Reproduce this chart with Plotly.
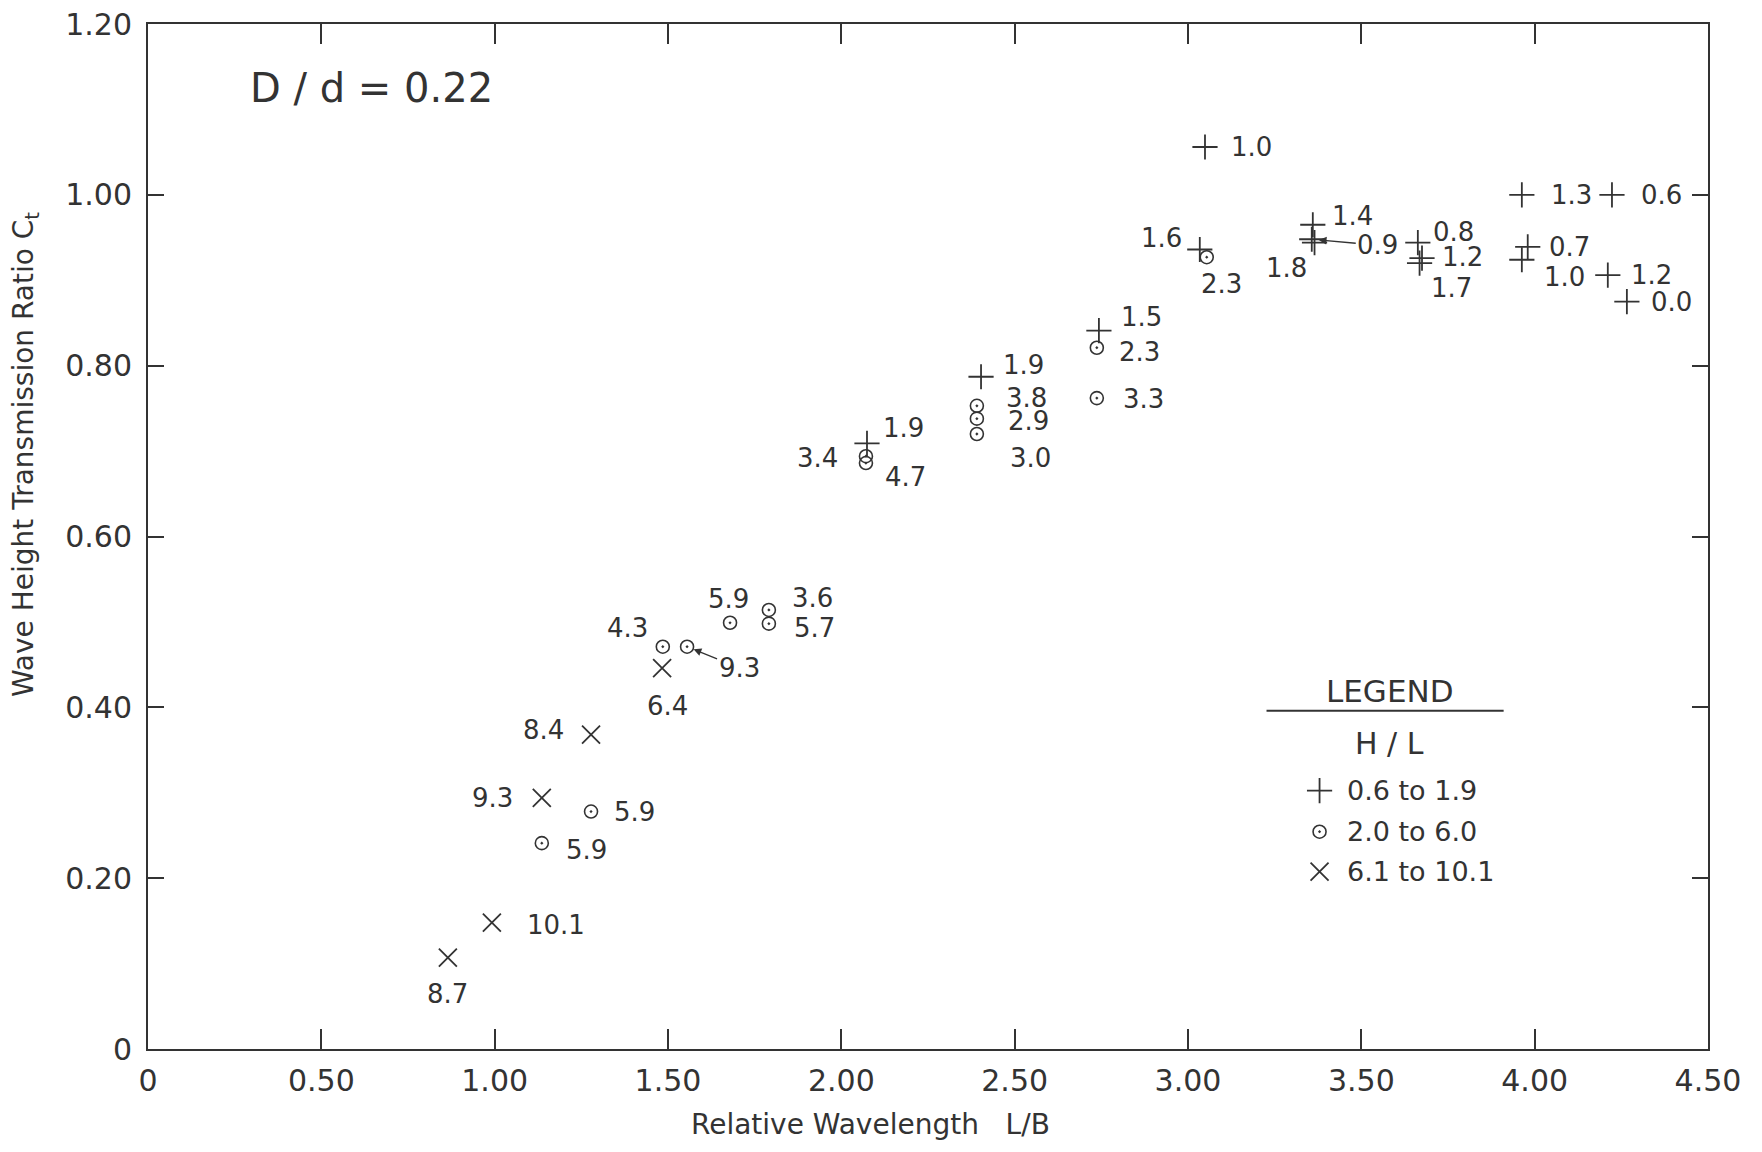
import plotly.graph_objects as go

# ---------------- data ----------------
# H/L 0.6 to 1.9  (plus markers)
plus_x = [2.074, 2.403, 2.743, 3.034, 3.049, 3.360, 3.357, 3.365, 3.663, 3.675, 3.668, 3.963, 4.223, 3.980, 3.963, 4.211, 4.266]
plus_y = [0.709, 0.787, 0.841, 0.936, 1.056, 0.965, 0.948, 0.944, 0.944, 0.926, 0.920, 1.000, 1.000, 0.939, 0.924, 0.906, 0.875]
plus_lbl = ["1.9", "1.9", "1.5", "1.6", "1.0", "1.4", "0.9", "1.8", "0.8", "1.2", "1.7", "1.3", "0.6", "0.7", "1.0", "1.2", "0.0"]

# H/L 2.0 to 6.0  (dotted circles)
circ_x = [1.136, 1.278, 1.485, 1.555, 1.679, 1.791, 1.791, 2.071, 2.071, 2.391, 2.391, 2.391, 2.737, 2.737, 3.054]
circ_y = [0.241, 0.278, 0.471, 0.471, 0.499, 0.514, 0.498, 0.694, 0.686, 0.753, 0.738, 0.720, 0.821, 0.762, 0.927]
circ_lbl = ["5.9", "5.9", "4.3", "9.3", "5.9", "3.6", "5.7", "3.4", "4.7", "3.8", "2.9", "3.0", "2.3", "3.3", "2.3"]

# H/L 6.1 to 10.1  (x markers)
xm_x = [0.865, 0.992, 1.136, 1.278, 1.483]
xm_y = [0.107, 0.148, 0.294, 0.368, 0.446]
xm_lbl = ["8.7", "10.1", "9.3", "8.4", "6.4"]

x_ticks = [0, 0.5, 1.0, 1.5, 2.0, 2.5, 3.0, 3.5, 4.0, 4.5]
x_tick_text = ["0", "0.50", "1.00", "1.50", "2.00", "2.50", "3.00", "3.50", "4.00", "4.50"]
y_ticks = [0, 0.2, 0.4, 0.6, 0.8, 1.0, 1.2]
y_tick_text = ["0", "0.20", "0.40", "0.60", "0.80", "1.00", "1.20"]

legend_text = ["0.6 to 1.9", "2.0 to 6.0", "6.1 to 10.1"]

# ---------------- label placement (pixel offsets; 'a' = arrow) ----------------
plus_off = [(37, 15), (42, 12), (43, 14), (-38, 12), (47, 0), (40, 9), ("a", 66, 6), (-28, -25),
            (36, 11), (40, 1), (32, -25), (50, 0), (50, 0), (42, 0), (43, -17), (44, 0), (45, 0)]
circ_off = [(45, -7), (43, 0), (-35, 19), ("a", 52, 21), (-2, 24), (44, 12), (46, -4), (-48, -2),
            (40, -14), (50, 8), (52, -2), (54, -24), (43, -4), (47, -1), (15, -27)]
xm_off = [(0, -36), (64, -2), (-49, 0), (-48, 5), (5, -38)]

INK = "#333333"
FONT = "DejaVu Sans"
LBL = 26

fig = go.Figure()

fig.add_trace(go.Scatter(x=plus_x, y=plus_y, mode="markers",
                         marker=dict(symbol="cross-thin", size=18, line=dict(width=1.8, color=INK), color=INK)))
fig.add_trace(go.Scatter(x=circ_x, y=circ_y, mode="markers",
                         marker=dict(symbol="circle-open-dot", size=13, line=dict(width=1.6, color=INK), color=INK)))
fig.add_trace(go.Scatter(x=xm_x, y=xm_y, mode="markers",
                         marker=dict(symbol="x-thin", size=18, line=dict(width=1.8, color=INK), color=INK)))

annotations = []


def add_labels(xs, ys, labels, offs):
    for x, y, t, o in zip(xs, ys, labels, offs):
        if o[0] == "a":
            annotations.append(dict(x=x, y=y, xref="x", yref="y", text=t, showarrow=True,
                                    ax=o[1], ay=o[2], arrowhead=2, arrowsize=1.2, arrowwidth=1.3,
                                    arrowcolor=INK, standoff=7,
                                    font=dict(family=FONT, size=LBL, color=INK)))
        else:
            annotations.append(dict(x=x, y=y, xref="x", yref="y", text=t, showarrow=False,
                                    xanchor="center", yanchor="middle",
                                    xshift=o[0], yshift=o[1],
                                    font=dict(family=FONT, size=LBL, color=INK)))


add_labels(plus_x, plus_y, plus_lbl, plus_off)
add_labels(circ_x, circ_y, circ_lbl, circ_off)
add_labels(xm_x, xm_y, xm_lbl, xm_off)


def paper_text(x, y, t, size, **kw):
    d = dict(x=x, y=y, xref="paper", yref="paper", text=t, showarrow=False,
             xanchor="center", yanchor="middle", font=dict(family=FONT, size=size, color=INK))
    d.update(kw)
    annotations.append(d)


# Title inside plot
paper_text(0.143, 0.938, "D / d = 0.22", 40)

# Axis titles
paper_text(-0.0785, 0.58, "Wave Height Transmission Ratio C<sub>t</sub>", 28, textangle=-90)
paper_text(0.463, -0.074, "Relative Wavelength\u00a0\u00a0\u00a0L/B", 28)

# Legend block
paper_text(0.796, 0.349, "LEGEND", 31)
paper_text(0.796, 0.298, "H / L", 30)
leg_y = [0.252, 0.212, 0.173]
for ty, t in zip(leg_y, legend_text):
    paper_text(0.767, ty, t, 27, xanchor="left")

# legend markers on an overlay (paper-like) axis
leg_sym = ["cross-thin", "circle-open-dot", "x-thin"]
leg_size = [18, 13, 18]
for ty, s, sz in zip(leg_y, leg_sym, leg_size):
    fig.add_trace(go.Scatter(x=[0.751], y=[ty], xaxis="x2", yaxis="y2", mode="markers",
                             marker=dict(symbol=s, size=sz, line=dict(width=1.8 if sz > 15 else 1.6, color=INK),
                                         color=INK)))

fig.update_layout(
    width=1746, height=1136,
    margin=dict(l=140, r=46, t=16, b=95, autoexpand=False),
    paper_bgcolor="white", plot_bgcolor="white",
    showlegend=False, hovermode=False,
    annotations=annotations,
    shapes=[dict(type="line", xref="paper", yref="paper", x0=0.717, x1=0.869, y0=0.330, y1=0.330,
                 line=dict(color=INK, width=2))],
    xaxis=dict(range=[0, 4.5], tickvals=x_ticks, ticktext=x_tick_text, ticks="inside", ticklen=20,
               tickwidth=1.5, tickcolor=INK, showline=True, linecolor=INK, linewidth=2, mirror="ticks",
               showgrid=False, zeroline=False, ticklabelstandoff=4, ticklabeloverflow="allow",
               automargin=False,
               tickfont=dict(family=FONT, size=30, color=INK)),
    yaxis=dict(range=[0, 1.2], tickvals=y_ticks, ticktext=y_tick_text, ticks="inside", ticklen=16,
               tickwidth=1.5, tickcolor=INK, showline=True, linecolor=INK, linewidth=2, mirror="ticks",
               showgrid=False, zeroline=False, ticklabelstandoff=8, ticklabeloverflow="allow",
               automargin=False,
               tickfont=dict(family=FONT, size=30, color=INK)),
    xaxis2=dict(range=[0, 1], overlaying="x", visible=False),
    yaxis2=dict(range=[0, 1], overlaying="y", visible=False),
)

fig.write_html("out.html")
